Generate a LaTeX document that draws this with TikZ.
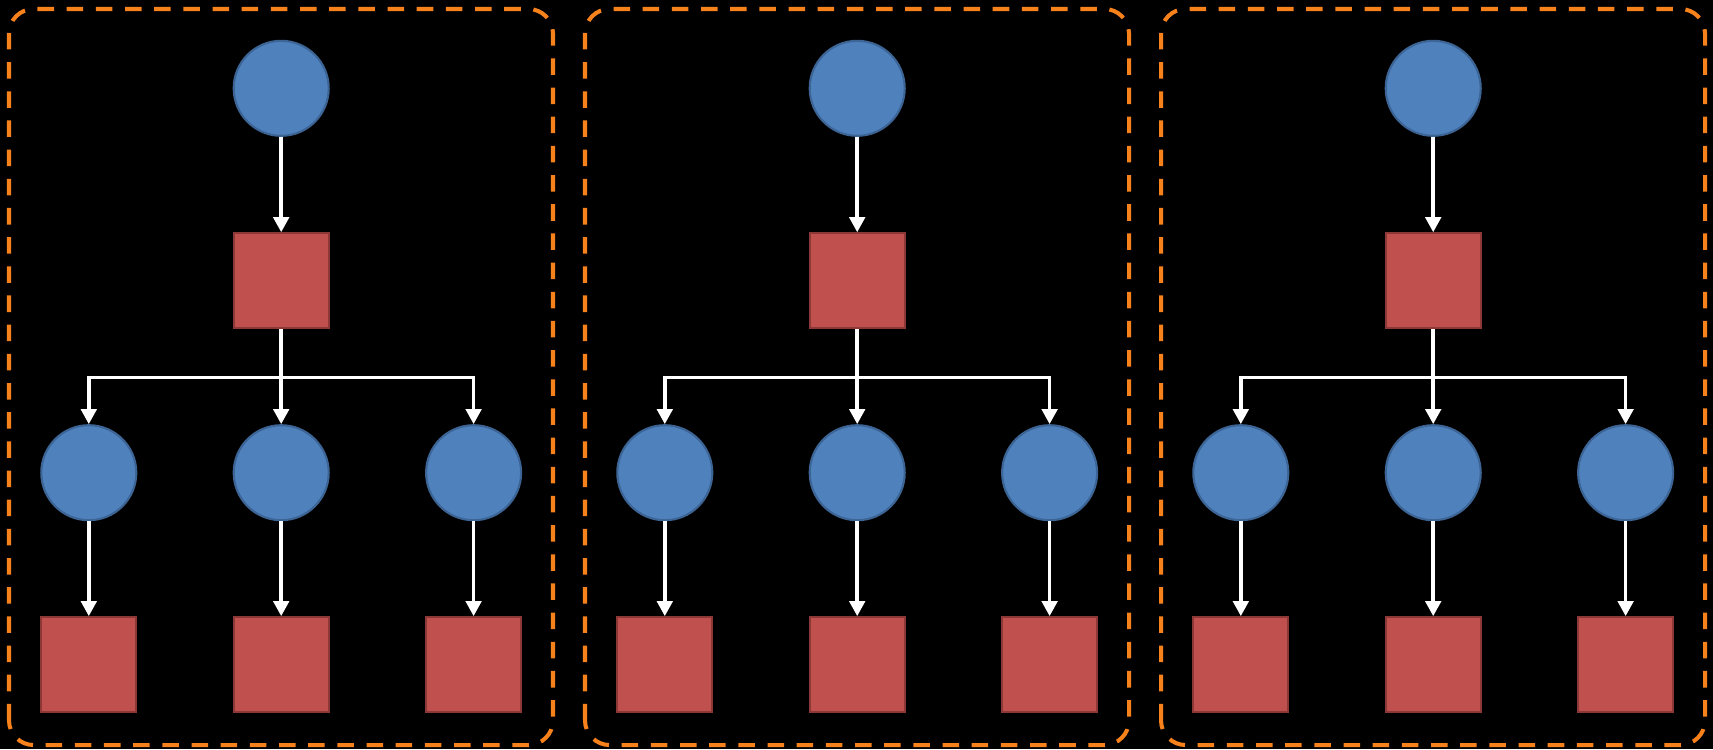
\documentclass[tikz,border=0pt]{standalone}
\usepackage{tikz}
\usetikzlibrary{arrows.meta,positioning,calc}
\definecolor{cBlue}{HTML}{4F81BD}
\definecolor{cBlueEdge}{HTML}{3C6494}
\definecolor{cRed}{HTML}{C0504D}
\definecolor{cRedEdge}{HTML}{8C3836}
\definecolor{cFrame}{HTML}{F7821B}
\tikzset{
  agent/.style={circle, draw=cBlueEdge, fill=cBlue, line width=0.6pt, minimum size=0.95cm, inner sep=0pt},
  task/.style={rectangle, draw=cRedEdge, fill=cRed, line width=0.6pt, minimum size=0.95cm, inner sep=0pt},
  feed/.style={-{Triangle[width=4.4pt, length=4.3pt]}, white, line width=1pt},
  frame/.style={draw=cFrame, line width=1.15pt, dash pattern=on 4.7pt off 3.6pt, rounded corners=7pt},
}
\begin{document}
\begin{tikzpicture}
  \fill[black] (0,0) rectangle (17.13,7.49);
  \useasboundingbox (0,0) rectangle (17.13,7.49);
  \foreach \p in {0,1,2}{
    \begin{scope}[xshift=\p*5.76cm]
      \draw[frame] (0.09,0.04) rectangle (5.53,7.40);
      \node[agent] (top\p) at (2.812,6.607) {};
      \node[task] (hub\p) at (2.812,4.682) {};
      \coordinate (bus\p) at (2.812,3.717);
      \foreach \i/\dx in {1/-1.924, 2/0, 3/1.924}{
        \node[agent] (mid\p-\i) at (2.812+\dx,2.763) {};
        \node[task] (leaf\p-\i) at (2.812+\dx,0.843) {};
        \draw[feed] (mid\p-\i) -- (leaf\p-\i);
      }
      \draw[feed] (top\p) -- (hub\p);
      \draw[feed] (hub\p) -- (mid\p-2);
      \draw[feed] (bus\p) -| (mid\p-1);
      \draw[feed] (bus\p) -| (mid\p-3);
    \end{scope}
  }
\end{tikzpicture}
\end{document}
